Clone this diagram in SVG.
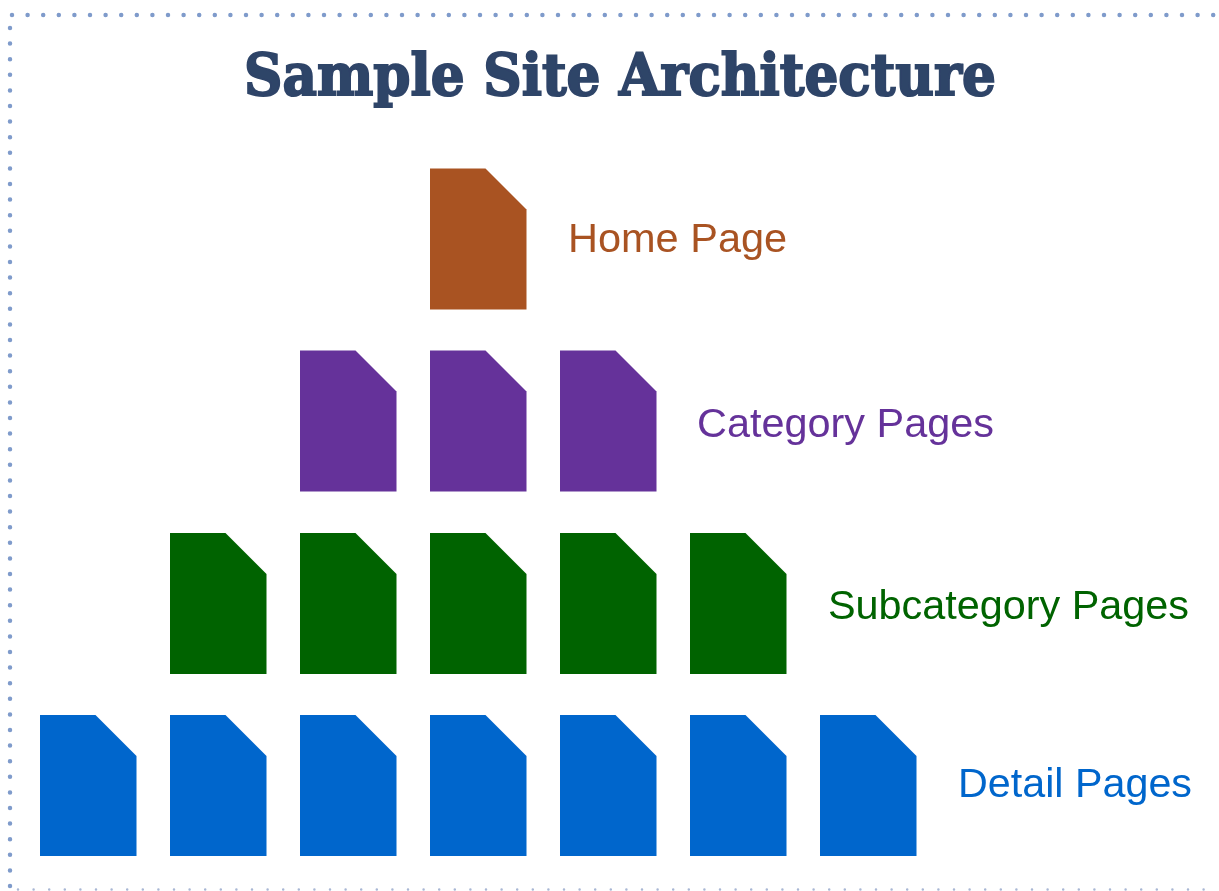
<svg xmlns="http://www.w3.org/2000/svg" width="1219" height="891" viewBox="0 0 1219 891">
<style>
text{font-family:"Liberation Sans",Arial,sans-serif;font-size:41.5px}
.title{font-family:"DejaVu Serif",serif;font-weight:700;font-size:58px;fill:#2f4468;stroke:#2f4468;stroke-width:2}
.frame{fill:none;stroke:#7f9bcb;stroke-width:4.500;stroke-linecap:round;stroke-dasharray:0 15.6}
.home{fill:#a95324}.cat{fill:#65339a}.sub{fill:#006400}.det{fill:#0066cc}
.soft{filter:url(#soft)}
</style>
<defs>
<path id="page" d="M0 0H55.500L96.500 41V141H0Z"/>
<filter id="soft" x="-5%" y="-5%" width="110%" height="110%"><feGaussianBlur stdDeviation="0.6"/></filter>
</defs>
<rect width="1219" height="891" fill="#fff"/>
<g class="soft">
<path class="frame" d="M12 15H1219"/>
<path class="frame" d="M10 28V890"/>
<path class="frame" d="M18 889.500H1219" style="stroke:#a9b7d4;stroke-width:2.500"/>
<text class="title" x="244" y="95" textLength="752" lengthAdjust="spacingAndGlyphs">Sample Site Architecture</text>
<g id="home-pages" class="home"><use href="#page" x="430" y="168.500"/></g>
<g id="category-pages" class="cat">
<use href="#page" x="300" y="350.500"/><use href="#page" x="430" y="350.500"/><use href="#page" x="560" y="350.500"/>
</g>
<g id="subcategory-pages" class="sub">
<use href="#page" x="170" y="533"/><use href="#page" x="300" y="533"/><use href="#page" x="430" y="533"/><use href="#page" x="560" y="533"/><use href="#page" x="690" y="533"/>
</g>
<g id="detail-pages" class="det">
<use href="#page" x="40" y="715"/><use href="#page" x="170" y="715"/><use href="#page" x="300" y="715"/><use href="#page" x="430" y="715"/><use href="#page" x="560" y="715"/><use href="#page" x="690" y="715"/><use href="#page" x="820" y="715"/>
</g>
<g id="labels">
<text x="568" y="252" class="home">Home Page</text>
<text x="697" y="437" class="cat" textLength="297" lengthAdjust="spacingAndGlyphs">Category Pages</text>
<text x="828" y="619" class="sub" textLength="361" lengthAdjust="spacingAndGlyphs">Subcategory Pages</text>
<text x="958" y="797" class="det" textLength="234" lengthAdjust="spacingAndGlyphs">Detail Pages</text>
</g>
</g>
</svg>
